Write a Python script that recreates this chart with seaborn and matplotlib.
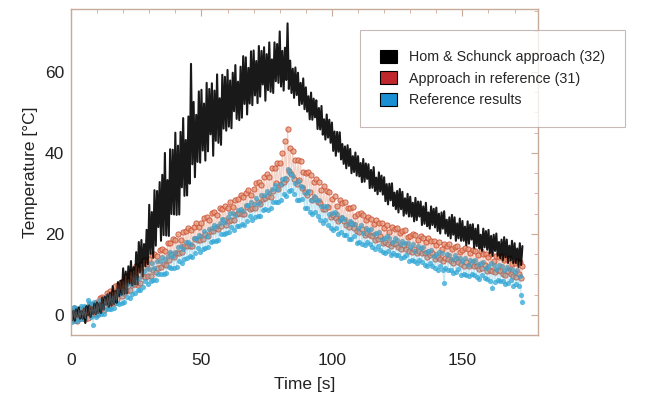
import numpy as np
import matplotlib
matplotlib.use("Agg")
import matplotlib.pyplot as plt
from matplotlib.patches import Patch
import seaborn as sns

# readings every 0.5 s, 0 .. 173 s
time_s = np.arange(0, 173.5, 0.5)

# Hom & Schunck approach (32)
hs_temp = [1.5, -1.3, 1.0, -1.4, 1.4, -0.5, 1.8, -0.9, 1.0, -0.9,
           1.6, -2.0, 2.2, -0.1, 2.3, -0.5, 1.9, 0.2, 2.8, 0.2,
           3.1, 0.5, 2.9, 0.5, 4.3, 1.3, 4.4, 2.5, 5.1, 2.0,
           5.5, 2.3, 7.1, 2.7, 6.0, 3.0, 8.1, 4.6, 8.4, 5.0,
           11.5, 5.2, 10.7, 5.4, 12.0, 7.8, 13.3, 7.3, 11.8, 7.6,
           15.5, 7.5, 18.0, 10.5, 18.5, 9.5, 17.5, 12.0, 21.0, 12.5,
           27.2, 15.1, 25.4, 14.1, 30.8, 17.1, 30.6, 21.7, 32.8, 18.3,
           34.6, 19.7, 40.0, 19.6, 33.3, 19.5, 40.9, 24.9, 40.8, 24.8,
           45.0, 24.7, 41.8, 24.8, 45.2, 31.5, 48.6, 29.4, 43.2, 29.5,
           49.0, 32.4, 62.0, 37.2, 52.6, 34.0, 49.4, 37.8, 55.2, 37.6,
           55.6, 40.6, 52.2, 38.1, 57.3, 40.4, 55.8, 44.6, 57.2, 39.3,
           55.4, 43.0, 59.4, 42.5, 53.5, 42.0, 59.3, 46.0, 58.8, 45.5,
           60.5, 46.5, 57.9, 46.1, 59.8, 50.3, 61.7, 48.4, 57.6, 48.1,
           61.3, 48.7, 63.9, 52.1, 63.6, 49.5, 61.0, 52.2, 65.1, 51.8,
           65.3, 54.2, 62.7, 52.3, 66.4, 53.9, 65.2, 56.9, 66.1, 52.9,
           64.4, 55.5, 67.3, 55.1, 63.1, 54.8, 67.3, 57.7, 66.9, 57.3,
           70.0, 56.4, 65.2, 55.4, 66.0, 58.0, 72.0, 55.8, 62.8, 54.8,
           60.8, 53.6, 61.1, 54.3, 59.8, 51.8, 57.3, 52.1, 58.4, 50.8,
           56.2, 50.2, 54.0, 48.3, 54.9, 48.2, 53.4, 48.8, 53.0, 45.9,
           51.1, 45.8, 51.6, 44.5, 48.3, 43.3, 49.5, 43.8, 48.2, 42.5,
           47.5, 40.5, 45.3, 39.3, 45.2, 40.3, 45.1, 38.4, 42.2, 37.3,
           41.6, 36.2, 41.9, 36.8, 41.0, 35.0, 39.2, 35.3, 40.1, 34.4,
           39.2, 34.2, 37.5, 32.8, 38.5, 32.9, 37.4, 33.6, 37.2, 31.3,
           35.8, 31.4, 36.5, 30.6, 33.9, 29.8, 35.2, 30.5, 34.4, 29.7,
           34.0, 28.1, 32.3, 27.3, 32.4, 28.3, 32.5, 26.9, 30.2, 26.1,
           30.6, 25.3, 31.1, 26.1, 30.4, 24.5, 28.8, 25.0, 29.9, 24.3,
           29.2, 24.3, 27.7, 23.1, 28.9, 23.4, 28.0, 24.3, 28.0, 22.2,
           26.8, 22.5, 27.7, 21.9, 25.3, 21.3, 26.8, 22.2, 26.2, 21.6,
           26.5, 20.7, 25.0, 20.1, 25.3, 21.3, 25.6, 20.1, 23.5, 19.5,
           24.1, 18.9, 24.7, 19.8, 24.1, 18.3, 22.6, 18.9, 23.8, 18.3,
           23.2, 18.3, 21.8, 17.2, 23.1, 17.6, 22.3, 18.6, 22.4, 16.6,
           21.3, 17.0, 22.2, 16.4, 19.8, 15.8, 21.3, 16.7, 20.7, 16.1,
           21.0, 15.2, 19.5, 14.6, 19.8, 15.8, 20.1, 14.6, 18.0, 14.0,
           18.6, 13.4, 19.2, 14.3, 18.6, 12.8, 17.1, 13.4, 18.3, 12.8,
           17.7, 12.8, 16.4, 11.8, 17.7, 12.3, 17.0]

# Approach in reference (31)
ref31_temp = [0.9, -1.2, 1.6, -1.3, 0.6, -1.4, 1.5, -0.7, 1.4, -0.8,
              1.8, -0.9, 1.5, -0.8, 2.1, 0.3, 2.7, 0.2, 2.1, 0.3,
              3.3, 0.4, 4.2, 1.5, 4.4, 1.2, 4.1, 2.1, 5.4, 2.4,
              5.8, 2.9, 5.6, 2.9, 7.2, 3.9, 7.4, 5.3, 8.2, 4.7,
              8.3, 5.5, 9.7, 5.8, 8.7, 6.1, 10.5, 7.4, 10.8, 7.7,
              12.0, 7.5, 11.5, 7.8, 12.5, 9.5, 13.5, 9.3, 12.5, 9.5,
              13.8, 9.7, 14.9, 11.1, 15.1, 10.5, 14.5, 11.7, 16.1, 11.8,
              16.3, 12.6, 15.9, 12.4, 17.7, 13.5, 17.8, 15.1, 18.7, 14.2,
              18.5, 15.2, 19.9, 15.4, 18.6, 15.5, 20.5, 16.9, 20.6, 17.1,
              21.5, 17.0, 20.9, 17.1, 21.8, 18.8, 22.7, 18.4, 21.6, 18.6,
              22.8, 18.7, 23.9, 20.1, 24.1, 19.5, 23.5, 20.7, 25.1, 20.8,
              25.3, 21.5, 24.7, 21.1, 26.3, 22.0, 26.2, 23.4, 26.9, 22.3,
              26.5, 23.2, 27.9, 23.4, 26.6, 23.5, 28.5, 24.9, 28.6, 25.1,
              29.7, 24.8, 29.0, 24.9, 30.0, 26.7, 30.9, 26.2, 29.7, 26.4,
              31.1, 26.3, 32.5, 28.0, 32.7, 27.3, 32.0, 28.7, 34.0, 28.9,
              34.7, 29.4, 34.0, 29.1, 36.4, 30.5, 36.4, 32.6, 37.5, 31.2,
              37.4, 32.3, 40.0, 32.9, 43.0, 33.5, 46.0, 35.6, 41.2, 34.7,
              40.5, 33.5, 38.3, 32.3, 38.2, 33.3, 38.1, 31.4, 35.2, 30.3,
              35.1, 29.7, 35.4, 30.3, 34.5, 28.5, 32.7, 28.8, 33.6, 27.9,
              32.7, 27.6, 30.9, 26.1, 31.8, 26.1, 30.6, 26.7, 30.3, 24.3,
              28.7, 24.6, 29.4, 23.9, 27.0, 23.2, 28.3, 23.9, 27.6, 23.2,
              27.8, 22.3, 26.3, 21.6, 26.4, 22.6, 26.6, 21.4, 24.5, 20.7,
              24.8, 20.4, 25.2, 21.1, 24.7, 19.8, 23.4, 20.2, 24.3, 19.7,
              23.8, 19.6, 22.5, 18.6, 23.4, 18.8, 22.6, 19.5, 22.6, 17.7,
              21.5, 17.9, 22.3, 17.5, 20.4, 17.0, 21.7, 17.8, 21.2, 17.4,
              21.5, 16.7, 20.3, 16.2, 20.6, 17.3, 20.9, 16.3, 19.2, 15.9,
              19.6, 15.6, 20.1, 16.3, 19.7, 15.2, 18.6, 15.7, 19.5, 15.3,
              19.1, 15.3, 18.0, 14.4, 18.9, 14.7, 18.2, 15.4, 18.3, 13.8,
              17.3, 14.2, 18.0, 13.8, 16.3, 13.4, 17.5, 14.1, 17.1, 13.7,
              17.4, 13.2, 16.4, 12.8, 16.7, 13.8, 17.0, 13.0, 15.5, 12.6,
              16.0, 12.2, 16.6, 13.0, 16.2, 12.0, 15.2, 12.5, 16.1, 12.1,
              15.8, 12.2, 14.7, 11.4, 15.7, 11.6, 15.1, 12.4, 15.1, 10.9,
              14.3, 11.2, 15.1, 10.8, 13.4, 10.5, 14.6, 11.2, 14.2, 10.8,
              14.5, 10.2, 13.5, 9.9, 13.7, 10.8, 14.0, 10.0, 12.5, 9.6,
              12.9, 9.4, 13.4, 10.1, 13.0, 9.2, 12.1]

# Reference results
ref_temp = [1.3, -1.8, 1.9, -0.9, 1.8, -1.6, 1.2, -0.9, 2.2, -1.0,
            2.3, -0.8, 1.7, 3.7, 2.9, -0.6, 2.7, -2.5, 3.1, -0.6,
            2.7, 0.1, 3.8, 0.2, 2.7, 0.3, 4.2, 1.4, 4.3, 1.5,
            5.0, 1.4, 4.6, 1.6, 5.4, 3.0, 6.2, 2.8, 5.4, 3.0,
            6.5, 3.1, 7.7, 4.4, 8.0, 4.1, 7.6, 5.2, 9.2, 5.5,
            9.5, 6.2, 9.1, 6.1, 10.7, 7.0, 10.8, 8.4, 11.5, 7.6,
            11.4, 8.4, 12.7, 8.5, 11.5, 8.7, 13.3, 10.0, 13.4, 10.2,
            14.3, 10.1, 13.8, 10.3, 14.6, 11.9, 15.5, 11.6, 14.5, 11.7,
            15.6, 11.9, 16.7, 13.2, 16.9, 12.7, 16.4, 13.8, 17.9, 14.0,
            18.1, 14.6, 17.6, 14.3, 19.1, 15.2, 19.0, 16.5, 19.7, 15.5,
            19.4, 16.4, 20.7, 16.5, 19.5, 16.7, 21.3, 18.0, 21.4, 18.2,
            22.3, 18.2, 21.9, 18.5, 22.8, 20.1, 23.8, 19.9, 22.9, 20.2,
            24.1, 20.4, 25.1, 21.6, 25.2, 21.0, 24.6, 21.9, 26.0, 22.0,
            26.2, 22.5, 25.6, 22.2, 27.2, 23.1, 27.1, 24.4, 27.8, 23.4,
            27.5, 24.2, 28.9, 24.4, 27.6, 24.5, 29.5, 25.9, 29.6, 26.1,
            30.5, 26.0, 30.0, 26.3, 31.0, 28.0, 32.0, 27.8, 31.0, 28.0,
            32.3, 28.3, 33.5, 29.8, 33.8, 29.3, 36.0, 30.5, 35.0, 30.8,
            34.3, 29.9, 32.6, 28.5, 33.1, 28.3, 31.9, 28.6, 31.5, 26.4,
            30.0, 26.3, 30.5, 25.5, 28.3, 24.8, 29.3, 25.3, 28.5, 24.5,
            28.5, 23.5, 27.0, 22.8, 27.0, 23.5, 27.0, 22.3, 25.0, 21.5,
            25.2, 20.9, 25.5, 21.5, 24.9, 20.1, 23.5, 20.4, 24.3, 19.8,
            23.7, 19.7, 22.4, 18.7, 23.3, 18.8, 22.5, 19.5, 22.5, 17.8,
            21.4, 18.1, 22.1, 17.6, 20.3, 17.2, 21.5, 17.9, 21.0, 17.5,
            21.3, 16.8, 20.1, 16.3, 20.2, 17.1, 20.4, 16.1, 18.7, 15.6,
            19.0, 15.2, 19.5, 15.9, 19.1, 14.8, 18.0, 15.3, 18.9, 14.8,
            18.5, 14.9, 17.4, 14.0, 18.3, 14.2, 17.7, 14.9, 17.7, 13.4,
            16.8, 13.6, 17.5, 13.2, 15.8, 12.8, 16.9, 13.5, 16.5, 13.1,
            16.7, 12.4, 15.6, 12.0, 15.9, 12.9, 16.1, 12.0, 14.6, 11.6,
            15.0, 11.2, 15.6, 12.0, 15.2, 11.0, 8.0, 11.5, 15.1, 11.1,
            14.8, 11.2, 13.7, 10.4, 14.7, 10.6, 14.1, 11.4, 14.1, 9.9,
            13.3, 10.2, 14.1, 9.8, 12.4, 9.5, 13.6, 10.2, 13.2, 9.8,
            13.5, 9.3, 12.5, 8.9, 12.8, 9.9, 13.1, 9.1, 11.7, 8.8,
            12.2, 8.4, 12.8, 6.7, 12.4, 8.2, 11.4, 8.7, 12.3, 8.3,
            12.0, 8.4, 11.0, 7.6, 11.9, 7.9, 11.3, 8.6, 11.4, 7.2,
            10.5, 7.6, 11.1, 7.2, 9.5, 5.0, 3.2]

labels = ["Hom & Schunck approach (32)", "Approach in reference (31)", "Reference results"]
patch_cols = ["#000000", "#c0272d", "#1a8fd4"]

sns.set_style("white")
plt.rcParams['font.family'] = ['Liberation Sans', 'DejaVu Sans']

fig = plt.figure(figsize=(6.57, 3.99), dpi=100)
ax = fig.add_axes([0.108, 0.160, 0.711, 0.817])

sns.lineplot(x=time_s, y=hs_temp, ax=ax, color="black", lw=1.5, alpha=0.9)
sns.lineplot(x=time_s, y=ref31_temp, ax=ax, color="#d86a45", lw=0.8, alpha=0.3)
sns.scatterplot(x=time_s, y=ref31_temp, ax=ax, facecolor="#e7a083", edgecolor="#c8452a",
                s=14, linewidth=0.7, alpha=0.8)
sns.lineplot(x=time_s, y=ref_temp, ax=ax, color="#45aed8", lw=0.8, alpha=0.3)
sns.scatterplot(x=time_s, y=ref_temp, ax=ax, color="#2ea6d6", s=14, linewidth=0, alpha=0.75)

ax.set_xlim(0, 179)
ax.set_ylim(-5, 75.5)
ax.set_xticks([0, 50, 100, 150])
ax.set_xticks(np.arange(0, 171, 10), minor=True)
ax.set_yticks([0, 20, 40, 60])
ax.set_yticks(np.arange(-5, 76, 5), minor=True)
spine_col = "#c8aa98"
for s in ax.spines.values():
    s.set_color(spine_col)
    s.set_linewidth(1.0)
ax.tick_params(which="both", direction="in", top=True, right=True, color=spine_col,
               labelsize=12.5, labelcolor="#222222")
ax.tick_params(axis="x", pad=13)
ax.tick_params(axis="y", pad=5)
ax.tick_params(which="major", length=5)
ax.tick_params(which="minor", length=3)
ax.set_xlabel("Time [s]", fontsize=12.5, color="#222222", labelpad=6)
ax.set_ylabel("Temperature [°C]", fontsize=12.5, color="#222222", labelpad=5)

handles = [Patch(facecolor=c, edgecolor="black", linewidth=0.8) for c in patch_cols]
leg = fig.legend(handles, labels, loc="upper left", bbox_to_anchor=(0.548, 0.925),
                 fontsize=10.3, frameon=True, fancybox=False, edgecolor="#b8a8a4",
                 handlelength=1.2, handleheight=1.0, handletextpad=0.8,
                 labelspacing=0.5, borderpad=1.4, borderaxespad=0)
leg.get_frame().set_linewidth(0.8)

plt.savefig("out.png", dpi=100)
plt.close()
